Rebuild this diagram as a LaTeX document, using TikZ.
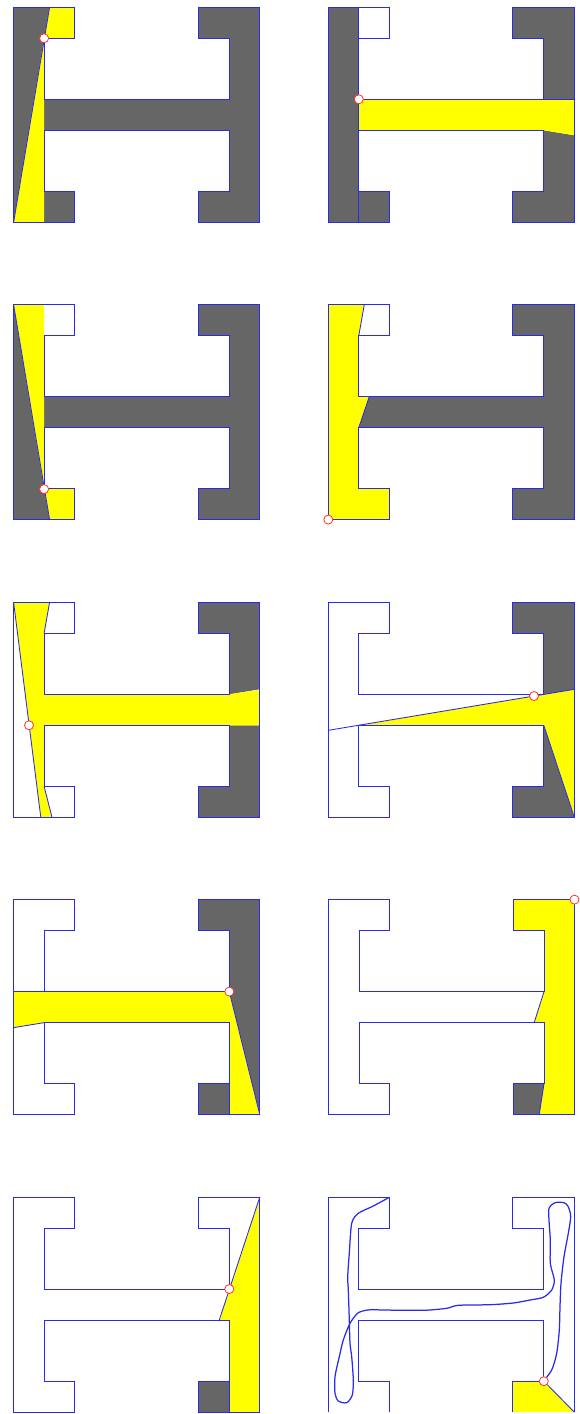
\documentclass[tikz,border=0pt]{standalone}
\definecolor{hblue}{HTML}{2A2AEE}
\definecolor{hgray}{HTML}{666666}
\definecolor{hyel}{HTML}{FFFF00}
\definecolor{hred}{HTML}{FF3333}
\tikzset{
  grayfill/.style={fill=hgray,draw=none},
  yelfill/.style={fill=hyel,draw=none},
  outline/.style={draw=hblue,line width=0.85pt,line join=miter},
  ray/.style={draw=hblue,line width=0.85pt},
  viewpt/.style={circle,draw=hred,fill=white,line width=0.8pt,minimum size=9pt,inner sep=0pt},
}
\newcommand{\hshape}{(0,0)--(61,0)--(61,31)--(30.5,31)--(30.5,92)--(215.5,92)--(215.5,31)--(184.5,31)--(184.5,0)--(246,0)--(246,215)--(184.5,215)--(184.5,184)--(215.5,184)--(215.5,123)--(30.5,123)--(30.5,184)--(61,184)--(61,215)--(0,215)--cycle}
\newcommand{\rightpart}{(215.5,92)--(215.5,31)--(184.5,31)--(184.5,0)--(246,0)--(246,215)--(184.5,215)--(184.5,184)--(215.5,184)--(215.5,123)}
\begin{document}
\begin{tikzpicture}[x=1pt,y=-1pt]
\useasboundingbox (0,0) rectangle (580,1414);
% panel 1
\begin{scope}[shift={(13.6,7.3)}]
\fill[grayfill] (0,0)--(36,0)--(0,215)--cycle;
\fill[grayfill] (30.5,184)--(61,184)--(61,215)--(30.5,215)--cycle;
\fill[grayfill] (30.5,92)--\rightpart--(30.5,123)--cycle;
\fill[yelfill] (36,0)--(61,0)--(61,31)--(30.5,31)--cycle;
\fill[yelfill] (30.5,31)--(30.5,215)--(0,215)--cycle;
\path[outline] \hshape;
\coordinate (a1) at (36,0); \coordinate (a2) at (0,215);
\draw[ray] (a1)--(a2);
\node[viewpt] (v1) at (30.5,31) {};
\end{scope}
% panel 2
\begin{scope}[shift={(328.3,7.3)}]
\fill[grayfill] (0,0)--(30.5,0)--(30.5,215)--(0,215)--cycle;
\fill[grayfill] (30.5,184)--(61,184)--(61,215)--(30.5,215)--cycle;
\fill[grayfill] (215.5,92)--(215.5,31)--(184.5,31)--(184.5,0)--(246,0)--(246,92)--cycle;
\fill[grayfill] (215.5,123)--(246,128)--(246,215)--(184.5,215)--(184.5,184)--(215.5,184)--cycle;
\fill[yelfill] (30.5,92)--(246,92)--(246,128)--(215.5,123)--(30.5,123)--cycle;
\path[outline] \hshape;
\coordinate (b1) at (30.5,0); \coordinate (b2) at (30.5,215); \coordinate (b3) at (246,92);
\draw[ray] (b1)--(b2);
\draw[ray] (30.5,92)--(b3);
\node[viewpt] (v2) at (30.5,92) {};
\end{scope}
% panel 3
\begin{scope}[shift={(13.6,304.6)}]
\fill[grayfill] (0,0)--(36,215)--(0,215)--cycle;
\fill[grayfill] (30.5,92)--\rightpart--(30.5,123)--cycle;
\fill[yelfill] (0,0)--(30.5,0)--(30.5,184)--cycle;
\fill[yelfill] (30.5,184)--(61,184)--(61,215)--(36,215)--cycle;
\path[outline] \hshape;
\coordinate (c1) at (0,0); \coordinate (c2) at (36,215);
\draw[ray] (c1)--(c2);
\node[viewpt] (v3) at (30.5,184.5) {};
\end{scope}
% panel 4
\begin{scope}[shift={(328.3,304.6)}]
\fill[yelfill] (0,0)--(36,0)--(30.5,31)--(30.5,92)--(41,92)--(30.5,123)--(30.5,184)--(61,184)--(61,215)--(0,215)--cycle;
\fill[grayfill] (41,92)--\rightpart--(30.5,123)--cycle;
\path[outline] \hshape;
\coordinate (d1) at (36,0); \coordinate (d2) at (30.5,31); \coordinate (d3) at (41,92); \coordinate (d4) at (30.5,123);
\draw[ray] (d1)--(d2);
\draw[ray] (d3)--(d4);
\node[viewpt] (v4) at (0,215) {};
\end{scope}
% panel 5
\begin{scope}[shift={(13.6,602.3)}]
\fill[grayfill] (215.5,92)--(215.5,31)--(184.5,31)--(184.5,0)--(246,0)--(246,87)--cycle;
\fill[grayfill] (215.5,123)--(246,123)--(246,215)--(184.5,215)--(184.5,184)--(215.5,184)--cycle;
\fill[yelfill] (0,0)--(36,0)--(30.5,31)--(30.5,92)--(215.5,92)--(246,87.5)--(246,123)--(30.5,123)--(30.5,184)--(38.4,215)--(27.2,215)--cycle;
\path[outline] \hshape;
\coordinate (e1) at (36,0); \coordinate (e2) at (30.5,31); \coordinate (e3) at (0,0); \coordinate (e4) at (27.2,215); \coordinate (e5) at (30.5,184); \coordinate (e6) at (38.4,215);
\draw[ray] (e1)--(e2);
\draw[ray] (e3)--(e4);
\draw[ray] (e5)--(e6);
\node[viewpt] (v5) at (15.4,123) {};
\end{scope}
% panel 6
\begin{scope}[shift={(328.3,602.3)}]
\fill[grayfill] (215.5,93)--(215.5,31)--(184.5,31)--(184.5,0)--(246,0)--(246,87)--cycle;
\fill[grayfill] (215.5,123)--(246,215)--(184.5,215)--(184.5,184)--(215.5,184)--cycle;
\fill[yelfill] (30.5,123)--(246,87)--(246,215)--(215.5,123)--cycle;
\path[outline] \hshape;
\coordinate (f1) at (0,128); \coordinate (f2) at (246,87); \coordinate (f3) at (215.5,123); \coordinate (f4) at (246,215);
\draw[ray] (f1)--(f2);
\draw[ray] (f3)--(f4);
\node[viewpt] (v6) at (205.7,93.7) {};
\end{scope}
% panel 7
\begin{scope}[shift={(13.8,899.6)}]
\fill[grayfill] (184.5,0)--(246,0)--(246,215)--(215.5,92)--(215.5,31)--(184.5,31)--cycle;
\fill[grayfill] (184.5,184)--(215.5,184)--(215.5,215)--(184.5,215)--cycle;
\fill[yelfill] (0,92)--(215.5,92)--(246,215)--(215.5,215)--(215.5,123)--(30.5,123)--(0,128)--cycle;
\path[outline] \hshape;
\coordinate (g1) at (215.5,92); \coordinate (g2) at (246,215); \coordinate (g3) at (0,92); \coordinate (g4) at (0,128); \coordinate (g5) at (30.5,123); \coordinate (g6) at (215.5,184); \coordinate (g7) at (215.5,215);
\draw[ray] (g1)--(g2);
\draw[ray] (g3)--(30.5,92);
\draw[ray] (g4)--(g5);
\draw[ray] (g6)--(g7);
\node[viewpt] (v7) at (215.5,92) {};
\end{scope}
% panel 8
\begin{scope}[shift={(328.5,899.6)}]
\fill[yelfill] (184.5,0)--(246,0)--(246,215)--(210.7,215)--(215.5,184)--(215.5,123)--(205.7,123)--(215.5,92)--(215.5,31)--(184.5,31)--cycle;
\fill[grayfill] (184.5,184)--(215.5,184)--(210.7,215)--(184.5,215)--cycle;
\path[outline] \hshape;
\coordinate (h1) at (215.5,92); \coordinate (h2) at (205.7,123); \coordinate (h3) at (215.5,184); \coordinate (h4) at (210.7,215);
\draw[ray] (h1)--(h2);
\draw[ray] (h3)--(h4);
\node[viewpt] (v8) at (246,0) {};
\end{scope}
% panel 9
\begin{scope}[shift={(13.8,1197)}]
\fill[yelfill] (246,0)--(246,215)--(215.5,215)--(215.5,123)--(205.5,123)--cycle;
\fill[grayfill] (184.5,184)--(215.5,184)--(215.5,215)--(184.5,215)--cycle;
\path[outline] \hshape;
\coordinate (i1) at (246,0); \coordinate (i2) at (205.5,123); \coordinate (i3) at (215.5,123); \coordinate (i4) at (215.5,215);
\draw[ray] (i1)--(i2);
\draw[ray] (i3)--(i4);
\node[viewpt] (v9) at (215.5,92) {};
\end{scope}
% panel 10
\begin{scope}[shift={(328.4,1197.2)}]
\fill[yelfill] (184.5,184)--(215.5,184)--(246,215)--(184.5,215)--cycle;
\path[outline] (61,215)--(61,184)--(30.5,184)--(30.5,123)--(215.5,123)--(215.5,184)--(184.5,184)--(184.5,215);
\path[outline] (0,215)--(0,0)--(61,0)--(61,31)--(30.5,31)--(30.5,92)--(215.5,92)--(215.5,31)--(184.5,31)--(184.5,0)--(246,0)--(246,215);
\coordinate (j1) at (215.5,184); \coordinate (j2) at (246,215);
\draw[ray] (j1)--(j2);
\end{scope}
\draw[draw=hblue,line width=1.25pt,line join=round] plot[smooth,tension=0.45] coordinates {
(543.3,1381.3)(551.7,1370)(556.7,1353.3)(559.3,1330)(560,1306.7)(561,1283.3)(564,1256.7)(568.3,1233.3)(570.7,1216.7)(568.3,1206.7)(564,1202.7)(555,1202.7)(549,1208.3)(549,1220)(550.3,1240)(550.3,1263.3)(554.3,1280)(551.7,1290)(543.3,1297.3)(530,1300)(513.3,1303)(490,1304.7)(458.3,1305.3)(446.7,1308.3)(423.3,1310.3)(383.3,1310)(370,1309.7)(358.3,1312.7)(350,1323.3)(343.3,1340)(339.3,1356.7)(335,1376.7)(335,1393.3)(338.3,1401)(346.7,1402.7)(352.3,1395)(353.3,1380)(351.7,1356.7)(350,1343.3)(349.3,1320)(348.3,1290)(347.7,1276.7)(349.3,1253.3)(351.7,1223.3)(358.3,1213.3)(373.3,1206)(389.3,1197.3)};
\node[viewpt] (v10) at (543.8,1381.2) {};
\end{tikzpicture}
\end{document}
